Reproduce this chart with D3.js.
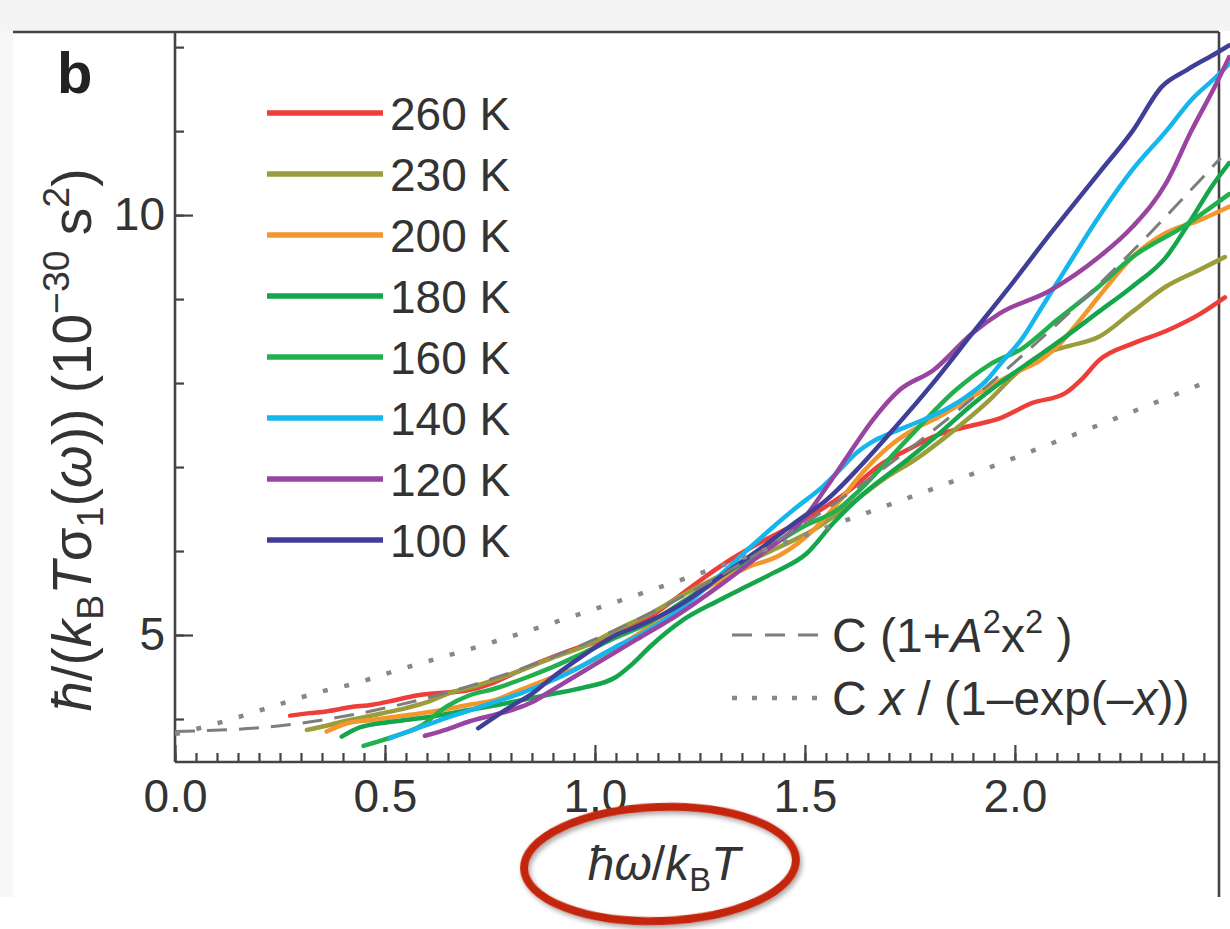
<!DOCTYPE html>
<html><head><meta charset="utf-8">
<script src="https://cdn.jsdelivr.net/npm/d3@7"></script>
<style>
body{margin:0;background:#fff;}
svg{display:block;font-family:"Liberation Sans",Arial,Helvetica,sans-serif;}
</style>
</head><body>
<svg id="chart" width="1230" height="929"></svg>
<script>
// ---------- data ----------
const seriesNames = ["260 K","230 K","200 K","180 K","160 K","140 K","120 K","100 K"];
const seriesColors = ["#ee3e3a","#9b9c3b","#f4962e","#15a54a","#22b04e","#14b6ec","#9a44a2","#403f98"];

const x260 = [0.274,0.32,0.36,0.417,0.47,0.52,0.575,0.63,0.695,0.758,0.814,0.86,0.9,0.96,1.012,1.07,1.131,1.21,1.27,1.33,1.4,1.47,1.54,1.6,1.686,1.742,1.805,1.885,1.964,2.04,2.12,2.16,2.2,2.28,2.36,2.44,2.5];
const y260 = [4.04,4.07,4.09,4.14,4.17,4.22,4.28,4.31,4.34,4.43,4.56,4.66,4.74,4.85,4.93,5.07,5.22,5.5,5.72,5.92,6.12,6.3,6.5,6.7,7.05,7.2,7.36,7.48,7.58,7.76,7.88,8.05,8.27,8.47,8.62,8.82,9.02];

const x230 = [0.314,0.36,0.4,0.45,0.496,0.55,0.6,0.655,0.72,0.814,0.9,0.972,1.052,1.13,1.2,1.28,1.36,1.44,1.52,1.607,1.686,1.766,1.82,1.885,1.94,2.0,2.06,2.12,2.2,2.28,2.36,2.44,2.5];
const y230 = [3.87,3.92,3.97,4.02,4.07,4.13,4.2,4.31,4.4,4.56,4.73,4.86,5.06,5.25,5.45,5.66,5.86,6.05,6.25,6.55,6.85,7.1,7.3,7.56,7.8,8.1,8.33,8.43,8.55,8.85,9.15,9.35,9.5];

const x200 = [0.361,0.41,0.472,0.56,0.64,0.7,0.758,0.814,0.9,0.972,1.05,1.13,1.2,1.28,1.36,1.44,1.52,1.583,1.64,1.702,1.76,1.82,1.88,1.94,2.0,2.06,2.1,2.15,2.2,2.28,2.36,2.44,2.51];
const y200 = [3.85,3.95,3.99,4.05,4.11,4.17,4.22,4.33,4.5,4.64,4.85,5.1,5.35,5.6,5.8,5.95,6.25,6.6,6.95,7.25,7.45,7.6,7.78,7.96,8.12,8.27,8.43,8.72,9.03,9.5,9.79,9.94,10.1];

const x180 = [0.397,0.44,0.52,0.6,0.68,0.76,0.84,0.9,0.97,1.05,1.09,1.131,1.21,1.29,1.345,1.425,1.504,1.567,1.623,1.742,1.82,1.9,1.964,2.05,2.12,2.2,2.28,2.36,2.42,2.47,2.51];
const y180 = [3.79,3.9,3.97,4.02,4.09,4.16,4.24,4.3,4.37,4.5,4.66,4.86,5.18,5.4,5.54,5.74,5.97,6.33,6.61,7.08,7.4,7.75,8.0,8.3,8.55,8.85,9.15,9.5,9.95,10.35,10.62];

const x160 = [0.449,0.52,0.583,0.647,0.7,0.76,0.84,0.9,0.97,1.05,1.13,1.21,1.3,1.4,1.5,1.58,1.623,1.742,1.86,1.94,2.02,2.1,2.2,2.28,2.4,2.51];
const y160 = [3.68,3.79,3.91,4.15,4.28,4.36,4.5,4.62,4.78,4.97,5.15,5.4,5.7,6.0,6.3,6.5,6.69,7.32,7.92,8.22,8.42,8.75,9.15,9.5,9.86,10.25];

const x140 = [0.512,0.56,0.6,0.65,0.7,0.76,0.82,0.88,0.95,1.0,1.05,1.107,1.2,1.3,1.36,1.425,1.48,1.543,1.58,1.623,1.66,1.702,1.781,1.84,1.885,1.93,1.964,2.02,2.06,2.12,2.2,2.28,2.36,2.42,2.48,2.51];
const y140 = [3.77,3.86,3.93,4.02,4.1,4.2,4.3,4.42,4.58,4.72,4.86,5.0,5.3,5.72,6.0,6.29,6.52,6.77,6.95,7.17,7.3,7.4,7.56,7.7,7.84,8.02,8.22,8.55,8.87,9.35,9.98,10.54,11.0,11.37,11.65,11.8];

const x120 = [0.595,0.65,0.7,0.76,0.81,0.85,0.9,0.95,1.0,1.05,1.1,1.2,1.3,1.4,1.488,1.55,1.607,1.66,1.726,1.805,1.9,1.964,2.083,2.2,2.28,2.36,2.42,2.48,2.51];
const y120 = [3.8,3.88,3.97,4.05,4.12,4.2,4.35,4.5,4.65,4.8,4.95,5.25,5.6,5.98,6.33,6.75,7.17,7.55,7.92,8.15,8.6,8.83,9.1,9.5,9.86,10.38,11.0,11.57,11.88];

const x100 = [0.722,0.76,0.8,0.85,0.9,0.95,1.0,1.05,1.1,1.2,1.3,1.4,1.48,1.552,1.63,1.702,1.805,1.9,1.98,2.083,2.2,2.28,2.35,2.41,2.48,2.51];
const y100 = [3.89,4.02,4.15,4.3,4.5,4.68,4.85,5.0,5.1,5.35,5.7,6.05,6.35,6.61,7.0,7.4,8.0,8.6,9.1,9.77,10.5,11.0,11.53,11.73,11.93,12.02];

// fit curves
const xDashed = [0,0.25,0.5,0.75,1.0,1.25,1.5,1.75,2.0,2.25,2.49];
const yDashed = [3.85,3.92,4.13,4.47,4.95,5.57,6.33,7.22,8.25,9.42,10.68];
const xDotted = [0,0.073,0.129,0.233,0.336,0.44,0.49,0.76,0.97,1.23,1.6,1.81,2.02,2.23,2.45];
const yDotted = [3.82,3.91,3.99,4.15,4.31,4.44,4.52,4.92,5.26,5.70,6.37,6.75,7.15,7.56,8.0];

const xMinorTicks = d3.range(0, 2.46, 0.05);
const xMajorTicks = [0, 0.5, 1.0, 1.5, 2.0];
const yMinorTicks = [4,5,6,7,8,9,10,11,12];
const yMajorTicks = [5, 10];

const xs = [x260,x230,x200,x180,x160,x140,x120,x100];
const ys = [y260,y230,y200,y180,y160,y140,y120,y100];

// ---------- chart ----------
const svg = d3.select("#chart");
const L = 175, R = 1219, T = 32, B = 762;
const x = d3.scaleLinear().domain([0, 2.486]).range([L, R]);
const y = d3.scaleLinear().domain([3.488, 12.18]).range([B, T]);

const defs = svg.append("defs");
defs.append("clipPath").attr("id","clip").append("rect")
  .attr("x", L).attr("y", T).attr("width", 1230 - L).attr("height", B - T);
const f = defs.append("filter").attr("id","shadow").attr("x","-10%").attr("y","-10%").attr("width","120%").attr("height","130%");
f.append("feDropShadow").attr("dx",2).attr("dy",3).attr("stdDeviation",2.5).attr("flood-color","#000").attr("flood-opacity",0.35);

// page background bits
svg.append("rect").attr("x",0).attr("y",0).attr("width",1230).attr("height",31).attr("fill","#f4f4f4");
svg.append("rect").attr("x",0).attr("y",31).attr("width",13).attr("height",866).attr("fill","#f7f7f7");

// axes ticks
const gx = svg.append("g").attr("transform",`translate(0,${B})`);
gx.call(d3.axisBottom(x).tickValues(xMinorTicks).tickSize(-9).tickFormat(""));
const gx2 = svg.append("g").attr("transform",`translate(0,${B})`);
gx2.call(d3.axisBottom(x).tickValues(xMajorTicks).tickSize(-17).tickPadding(17).tickFormat(d3.format(".1f")));
const gy = svg.append("g").attr("transform",`translate(${L},0)`);
gy.call(d3.axisLeft(y).tickValues(yMinorTicks).tickSize(-9).tickFormat(""));
const gy2 = svg.append("g").attr("transform",`translate(${L},0)`);
gy2.call(d3.axisLeft(y).tickValues(yMajorTicks).tickSize(-18).tickPadding(10).tickFormat(d3.format("d")));
[gx,gx2,gy,gy2].forEach(g=>{
  g.select(".domain").remove();
  g.selectAll(".tick line").attr("stroke","#444").attr("stroke-width",2.2);
  g.selectAll(".tick text").attr("fill","#333").attr("font-size",46)
   .attr("font-family",'"Liberation Sans",Arial,sans-serif');
});

// frame
const frame = svg.append("g").attr("stroke","#444").attr("stroke-width",2.6).attr("fill","none");
frame.append("line").attr("x1",13).attr("x2",R).attr("y1",T).attr("y2",T);
frame.append("line").attr("x1",L).attr("x2",L).attr("y1",T).attr("y2",B);
frame.append("line").attr("x1",L).attr("x2",R).attr("y1",B).attr("y2",B);
frame.append("line").attr("x1",R).attr("x2",R).attr("y1",T).attr("y2",897);

// data lines
const line = d3.line().x(d=>x(d[0])).y(d=>y(d[1])).curve(d3.curveMonotoneX);
const plot = svg.append("g").attr("clip-path","url(#clip)");
xs.forEach((xa,i)=>{
  const pts = xa.map((v,j)=>[v, ys[i][j]]);
  plot.append("path").datum(pts).attr("d",line)
    .attr("fill","none").attr("stroke",seriesColors[i]).attr("stroke-width",4.5)
    .attr("stroke-linejoin","round").attr("stroke-linecap","round");
});
// fit curves
plot.append("path").datum(xDashed.map((v,j)=>[v,yDashed[j]])).attr("d",line)
  .attr("fill","none").attr("stroke","#7d7d7d").attr("stroke-width",3).attr("stroke-dasharray","20,12");
plot.append("path").datum(xDotted.map((v,j)=>[v,yDotted[j]])).attr("d",line)
  .attr("fill","none").attr("stroke","#888").attr("stroke-width",4.5).attr("stroke-dasharray","5,17");

// legend
const lg = svg.append("g");
seriesNames.forEach((n,i)=>{
  const yy = 113 + 61*i;
  lg.append("line").attr("x1",267).attr("x2",383).attr("y1",yy).attr("y2",yy)
    .attr("stroke",seriesColors[i]).attr("stroke-width",5.5);
  lg.append("text").attr("x",390).attr("y",yy).attr("dy","0.36em")
    .attr("font-size",46).attr("fill","#333").text(n);
});

// rich text helper
function rich(sel, parts, S){
  let shift = 0;
  parts.forEach(p=>{
    const ts = sel.append("tspan").text(p.t);
    const target = p.sub ? 0.22*S : (p.sup ? -0.4*S : 0);
    ts.attr("dy", target - shift); shift = target;
    if (p.sub || p.sup) ts.attr("font-size", 0.68*S);
    if (p.i) ts.attr("font-style","italic");
  });
}

// fit legend
svg.append("line").attr("x1",732).attr("x2",826).attr("y1",635).attr("y2",635)
  .attr("stroke","#7d7d7d").attr("stroke-width",3).attr("stroke-dasharray","20,13");
svg.append("line").attr("x1",732).attr("x2",826).attr("y1",698).attr("y2",698)
  .attr("stroke","#888").attr("stroke-width",4.5).attr("stroke-dasharray","5,15");
const t1 = svg.append("text").attr("x",832).attr("y",652).attr("font-size",48).attr("fill","#333");
rich(t1,[{t:"C (1+"},{t:"A",i:true},{t:"2",sup:true},{t:"x"},{t:"2",sup:true},{t:" )"}],48);
const t2 = svg.append("text").attr("x",832).attr("y",715).attr("font-size",48).attr("fill","#333");
rich(t2,[{t:"C "},{t:"x",i:true},{t:" / (1–exp(–"},{t:"x",i:true},{t:"))"}],48);

// panel letter
svg.append("text").attr("x",57).attr("y",93).attr("font-size",58).attr("font-weight","bold")
  .attr("fill","#222").text("b");

// y label
const yl = svg.append("text").attr("transform","translate(91,440) rotate(-90)")
  .attr("text-anchor","middle").attr("font-size",55).attr("fill","#333");
rich(yl,[{t:"ħ",i:true},{t:"/("},{t:"k",i:true},{t:"B",sub:true},{t:"T",i:true},{t:"σ"},{t:"1",sub:true},
  {t:"("},{t:"ω",i:true},{t:")) (10"},{t:"−30",sup:true},{t:" s"},{t:"2",sup:true},{t:")"}],55);

// x label
const xl = svg.append("text").attr("x",664).attr("y",880).attr("text-anchor","middle")
  .attr("font-size",48).attr("fill","#333");
rich(xl,[{t:"ħω",i:true},{t:"/"},{t:"k",i:true},{t:"B",sub:true},{t:"T",i:true}],48);

// red annotation ellipse
svg.append("ellipse").attr("cx",660).attr("cy",864).attr("rx",136).attr("ry",57)
  .attr("transform","rotate(-2,660,864)")
  .attr("fill","none").attr("stroke","#c4260f").attr("stroke-width",8).attr("filter","url(#shadow)");
</script>
</body></html>
